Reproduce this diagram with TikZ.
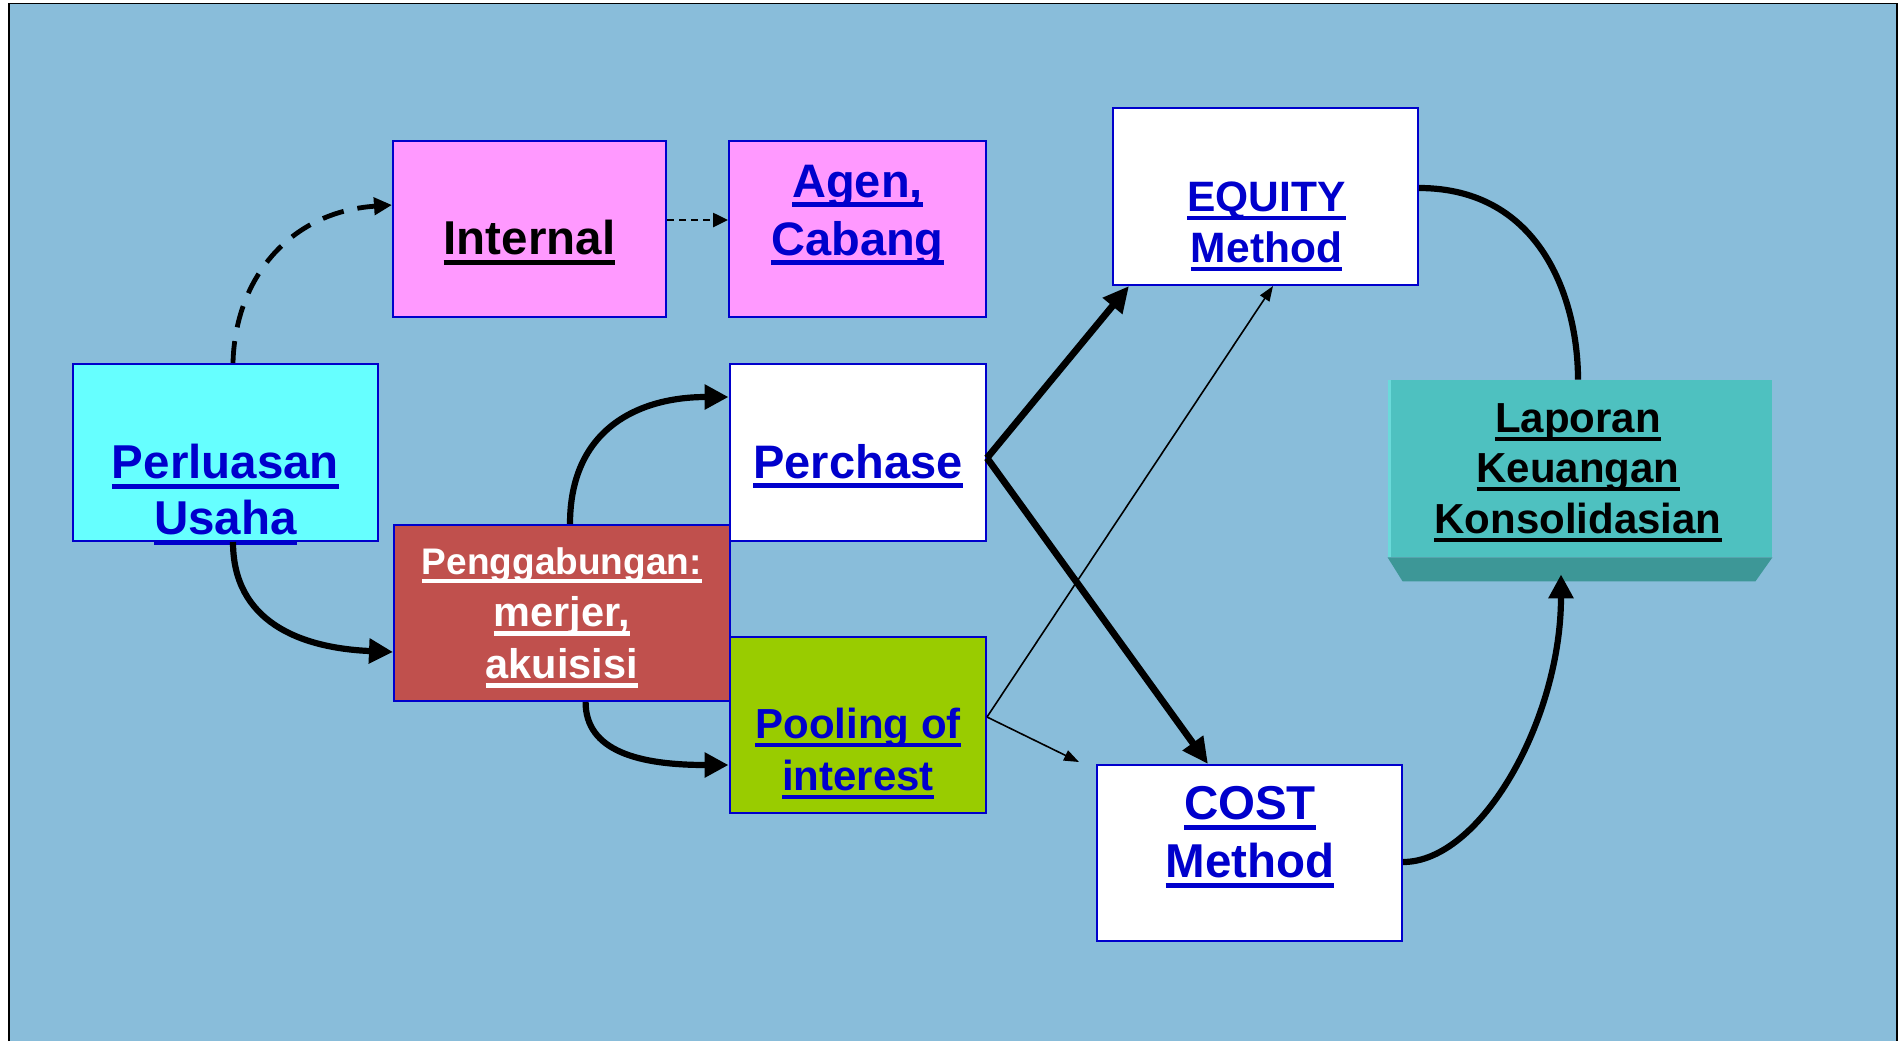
\documentclass[tikz,border=0pt]{standalone}
\usepackage{fontspec}
\setmainfont{Liberation Sans}
\usetikzlibrary{arrows.meta,calc}

\definecolor{bgblue}{HTML}{89BDDA}
\definecolor{boxblue}{HTML}{0000CC}
\definecolor{txtblue}{HTML}{0000CC}
\definecolor{cyanbox}{HTML}{66FFFF}
\definecolor{pinkbox}{HTML}{FF99FF}
\definecolor{redbox}{HTML}{C0504D}
\definecolor{greenbox}{HTML}{99CC00}
\definecolor{tealbox}{HTML}{4EC1C0}
\definecolor{tealdark}{HTML}{3D9797}
\definecolor{teallight}{HTML}{6ADADA}

\newcommand{\sz}[2]{\fontsize{#1}{#2}\selectfont}
\newlength\ulwd
\newcommand{\ulin}[1]{\settowidth{\ulwd}{#1}\rule[-0.25em]{0pt}{1.05em}\makebox[0pt][l]{\rule[-0.21em]{\ulwd}{0.1em}}#1}

\begin{document}
\begin{tikzpicture}[x=0.5pt, y=-0.5pt,
    box/.style={draw=boxblue, line width=1pt, inner sep=0pt},
    lbl/.style={align=center, inner sep=0pt, text=txtblue},
    bigarrow/.style={line width=3.4pt, -{Triangle[length=13pt,width=12pt]}},
    curvearrow/.style={line width=3.1pt, -{Triangle[length=12pt,width=12pt]}},
    thinarrow/.style={line width=0.8pt, -{Triangle[length=7.5pt,width=5.5pt]}},
    dasharrow/.style={line width=2.4pt, dash pattern=on 11pt off 7pt, -{Triangle[length=9pt,width=8.5pt]}},
    dotarrow/.style={line width=1.3pt, dash pattern=on 3.5pt off 2.5pt, -{Triangle[length=7.5pt,width=7pt]}}]

    % frame
    \fill[white] (0,0) rectangle (1901,1041);
    \useasboundingbox (0,0) rectangle (1901,1041);
    \fill[bgblue] (9,3.5) rectangle (1897,1041);
    \draw[line width=0.8pt] (9,1041) -- (9,3.5) -- (1897,3.5) -- (1897,1041);

    % boxes
    \node[box, fill=cyanbox, minimum width=152.5pt, minimum height=88.5pt] (perluasan) at (225.5,452.5) {};
    \node[box, fill=pinkbox, minimum width=136.5pt, minimum height=88pt] (internal) at (529.5,229) {};
    \node[box, fill=pinkbox, minimum width=128.5pt, minimum height=88pt] (agen) at (857.5,229) {};
    \node[box, fill=white, minimum width=128.25pt, minimum height=88.5pt] (perchase) at (857.75,452.5) {};
    \node[box, fill=redbox, minimum width=167.75pt, minimum height=88pt] (pengg) at (561.75,613) {};
    \node[box, fill=greenbox, minimum width=128.25pt, minimum height=88pt] (pooling) at (857.75,725) {};
    \node[box, fill=white, minimum width=152.5pt, minimum height=88.5pt] (equity) at (1265.5,196.5) {};
    \node[box, fill=white, minimum width=152.5pt, minimum height=88pt] (cost) at (1249.5,853) {};
    \node[fill=tealbox, inner sep=0pt, minimum width=192pt, minimum height=88.5pt] (laporan) at (1580,468.5) {};
    \fill[tealdark] (laporan.south west) -- (laporan.south east) -- ++(-17,24) -- ($(laporan.south west)+(15,24)$) -- cycle;
    \fill[teallight] (laporan.north west) rectangle ($(laporan.south west)+(3,0)$);

    % texts
    \node[lbl, font=\bfseries\sz{23.75}{28}] (perluasan-t) at (225.5,493.9) {\ulin{Perluasan}\\\ulin{Usaha}};
    \node[lbl, text=black, font=\bfseries\sz{23.75}{28}] (internal-t) at (529.5,241.9) {\ulin{Internal}};
    \node[lbl, font=\bfseries\sz{23.5}{29}] (agen-t) at (857.5,213.1) {\ulin{Agen,}\\\ulin{Cabang}};
    \node[lbl, font=\bfseries\sz{23.5}{28}] (perchase-t) at (858,465.1) {\ulin{Perchase}};
    \node[lbl, text=white, font=\bfseries\sz{20.75}{26}] (pengg-t) at (561.75,617.2) {{\sz{18.5}{26}\ulin{Penggabungan:}}\\\ulin{merjer,}\\\ulin{akuisisi}};
    \node[lbl, font=\bfseries\sz{21}{26}] (pooling-t) at (858,752.5) {\ulin{Pooling of}\\\ulin{interest}};
    \node[lbl, font=\bfseries\sz{21.25}{25.5}] (equity-t) at (1266.5,224.8) {\ulin{EQUITY}\\\ulin{Method}};
    \node[lbl, font=\bfseries\sz{23.75}{29}] (cost-t) at (1250,835.9) {\ulin{COST}\\\ulin{Method}};
    \node[lbl, text=black, font=\bfseries\sz{21}{25.25}] (laporan-t) at (1578,471) {\ulin{Laporan}\\\ulin{Keuangan}\\\ulin{Konsolidasian}};

    % connectors
    \draw[dasharrow] ($(perluasan.north)+(7.5,0)$) .. controls +(2,-84) and +(-103,7) .. ($(internal.west)+(0,-24)$);
    \draw[dotarrow] ($(internal.east)+(0,-9)$) -- ($(agen.west)+(0,-9)$);
    \draw[curvearrow] ($(perluasan.south)+(7.5,0)$) .. controls +(0,79) and +(-94,-4) .. ($(pengg.west)+(0,39)$);
    \draw[curvearrow] ($(pengg.north)+(8.25,0)$) .. controls +(0,-95) and +(-90,0) .. ($(perchase.west)+(0,-55.5)$);
    \draw[curvearrow] ($(pengg.south)+(23.85,0)$) .. controls +(0,49) and +(-90,0) .. ($(pooling.west)+(0,40)$);
    \draw[bigarrow] ($(perchase.east)+(0,5.5)$) -- ($(equity.south)+(-136.5,0)$);
    \draw[bigarrow] ($(perchase.east)+(0,5.5)$) -- ($(cost.north)+(-41.5,0)$);
    \draw[thinarrow] ($(pooling.east)+(0,-8)$) -- ($(equity.south)+(7.5,0)$);
    \draw[thinarrow] ($(pooling.east)+(0,-8)$) -- ($(cost.north west)+(-17,-2)$);
    \draw[line width=3.1pt] ($(equity.east)+(0,-8.5)$) .. controls +(122,0) and +(0,-80) .. ($(laporan.north)+(-2,0)$);
    \draw[curvearrow] ($(cost.east)+(0,9)$) .. controls +(78,0) and +(0,145) .. ($(laporan.south)+(-19,17)$);
\end{tikzpicture}
\end{document}
